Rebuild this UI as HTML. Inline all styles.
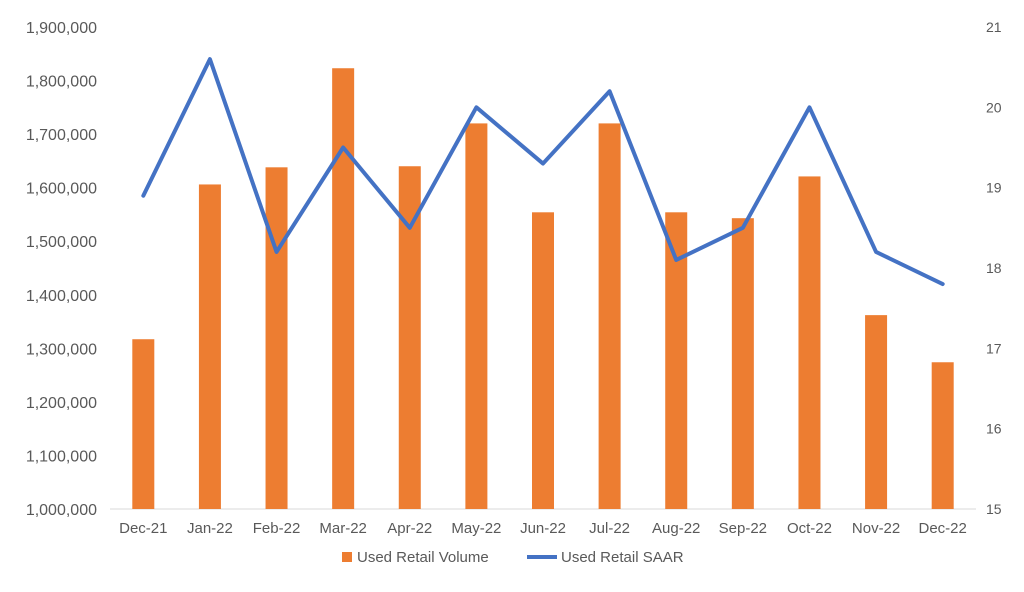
<!DOCTYPE html>
<html><head><meta charset="utf-8"><style>
html,body{margin:0;padding:0;background:#fff;}
svg text{font-family:"Liberation Sans",sans-serif;fill:#595959;}
</style></head><body>
<svg id="chart" width="1024" height="587" viewBox="0 0 1024 587" xmlns="http://www.w3.org/2000/svg">
<g id="axes"></g><g id="bars"></g><g id="line"></g><g id="legend"></g>
</svg>
<script>
const categories=["Dec-21","Jan-22","Feb-22","Mar-22","Apr-22","May-22","Jun-22","Jul-22","Aug-22","Sep-22","Oct-22","Nov-22","Dec-22"];
const volume=[1317000,1606000,1638000,1823000,1640000,1720000,1554000,1720000,1554000,1543000,1621000,1362000,1274000];
const saar=[18.9,20.6,18.2,19.5,18.5,20.0,19.3,20.2,18.1,18.5,20.0,18.2,17.8];
const leftTicks=[1000000,1100000,1200000,1300000,1400000,1500000,1600000,1700000,1800000,1900000];
const rightTicks=[15,16,17,18,19,20,21];
const NS="http://www.w3.org/2000/svg";
const x0=110,x1=976,yBot=509,yTop=27;
const band=(x1-x0)/categories.length;
const xc=i=>x0+band*(i+0.5);
const yL=v=>yBot-(v-1000000)/900000*(yBot-yTop);
const yR=v=>yBot-(v-15)/6*(yBot-yTop);
function mk(tag,attrs,parent,txt){const e=document.createElementNS(NS,tag);for(const k in attrs)e.setAttribute(k,attrs[k]);if(txt!==undefined)e.textContent=txt;document.getElementById(parent).appendChild(e);return e;}
let e;
e=mk('line',{x1:x0,x2:x1,y1:yBot,y2:yBot,stroke:'#d9d9d9','stroke-width':1},'axes');


leftTicks.forEach(t=>{
 e=mk('text',{x:97,y:yL(t)+6,'text-anchor':'end','font-size':16},'axes',t.toLocaleString('en-US'));
 
 
});
rightTicks.forEach(t=>{
 e=mk('text',{x:986,y:yR(t)+5,'text-anchor':'start','font-size':14},'axes',String(t));
 
 
});
categories.forEach((c,i)=>{
 e=mk('text',{x:xc(i),y:533,'text-anchor':'middle','font-size':15},'axes',c);
 
 
});
volume.forEach((v,i)=>{
 e=mk('rect',{x:xc(i)-11,y:yL(v),width:22,height:yBot-yL(v),fill:'#ed7d31'},'bars');
 
 
});
e=mk('polyline',{points:saar.map((v,i)=>xc(i)+','+yR(v)).join(' '),fill:'none',stroke:'#4472c4','stroke-width':4,'stroke-linejoin':'round','stroke-linecap':'round'},'line');


e=mk('rect',{x:342,y:552,width:10,height:10,fill:'#ed7d31'},'legend');


e=mk('text',{x:357,y:562,'font-size':15},'legend','Used Retail Volume');


e=mk('line',{x1:527,x2:557,y1:557,y2:557,stroke:'#4472c4','stroke-width':4},'legend');


e=mk('text',{x:561,y:562,'font-size':15},'legend','Used Retail SAAR');


</script>
</body></html>
